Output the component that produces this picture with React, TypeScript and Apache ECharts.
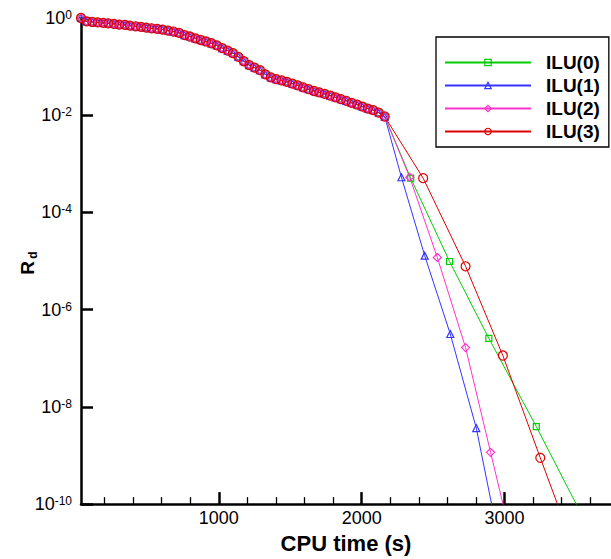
import React, { useEffect, useRef } from "react";
import * as echarts from "echarts";

// Shared convergence history (all four preconditioners overlap here)
const commonTime = [35, 75, 114, 152, 191, 226, 266, 303, 343, 378, 418, 455, 492, 529, 569, 606, 645, 683, 722, 760, 797, 836, 873, 910, 948, 986, 1024, 1062, 1099, 1137, 1175, 1213, 1250, 1288, 1326, 1364, 1401, 1439, 1477, 1515, 1552, 1590, 1628, 1666, 1703, 1741, 1779, 1817, 1855, 1892, 1930, 1969, 2006, 2043, 2081, 2119, 2161];
const commonRd = [1.0, 0.853, 0.829, 0.813, 0.791, 0.776, 0.755, 0.73, 0.72, 0.697, 0.675, 0.656, 0.634, 0.614, 0.597, 0.578, 0.551, 0.526, 0.494, 0.446, 0.416, 0.382, 0.353, 0.329, 0.302, 0.273, 0.24, 0.214, 0.189, 0.159, 0.129, 0.107, 0.0953, 0.0844, 0.0692, 0.0599, 0.0553, 0.0523, 0.0485, 0.0446, 0.041, 0.0373, 0.0343, 0.0315, 0.0295, 0.0274, 0.0254, 0.0232, 0.0214, 0.0198, 0.0179, 0.0165, 0.015, 0.0137, 0.0127, 0.0113, 0.0094];

// Tails after the common part
const ilu0Time = [2343, 2615, 2890, 3222, 3559];
const ilu0Rd = [5.07e-4, 9.8e-6, 2.57e-7, 3.94e-9, 4.7e-11];
const ilu1Time = [2278, 2441, 2620, 2802, 2986];
const ilu1Rd = [5.3e-4, 1.29e-5, 3.16e-7, 3.66e-9, 7.6e-12];
const ilu2Time = [2336, 2529, 2727, 2902, 3077];
const ilu2Rd = [5.3e-4, 1.19e-5, 1.66e-7, 1.16e-9, 8.3e-12];
const ilu3Time = [2430, 2727, 2988, 3250, 3510];
const ilu3Rd = [5.07e-4, 7.8e-6, 1.14e-7, 8.95e-10, 7.9e-12];

const seriesNames = ["ILU(0)", "ILU(1)", "ILU(2)", "ILU(3)"];
const seriesColors = ["#00cc00", "#3535ff", "#ff33cc", "#dd0000"];
const seriesSymbols = ["rect", "triangle", "diamond", "circle"];
const seriesSizes = [6, 7, 8, 9];
const tailTimes = [ilu0Time, ilu1Time, ilu2Time, ilu3Time];
const tailRds = [ilu0Rd, ilu1Rd, ilu2Rd, ilu3Rd];

const majorTicks = [1000, 2000, 3000];
const minorTicks = [200, 400, 600, 800, 1200, 1400, 1600, 1800, 2200, 2400, 2600, 2800, 3200, 3400, 3600];
const yTicks = [1e-10, 1e-8, 1e-6, 1e-4, 1e-2, 1];
const xMin = 35;
const xMax = 3745;

export default function App() {
  const ref = useRef<HTMLDivElement>(null);
  useEffect(() => {
    if (!ref.current) return;
    const chart = echarts.init(ref.current, undefined, { renderer: "svg" });
    const font = "Liberation Sans, Arial, sans-serif";
    const series = seriesNames.map((name, i) => {
      const data: [number, number][] = [];
      commonTime.forEach((t, k) => data.push([t, commonRd[k]]));
      tailTimes[i].forEach((t, k) => data.push([t, tailRds[i][k]]));
      return {
        name,
        type: "line",
        xAxisIndex: 0,
        data,
        symbol: seriesSymbols[i],
        symbolSize: seriesSizes[i],
        showAllSymbol: true,
        clip: true,
        lineStyle: { color: seriesColors[i], width: 1 },
        itemStyle: { color: "transparent", borderColor: seriesColors[i], borderWidth: 1.2 },
        emphasis: { disabled: true },
      };
    });
    chart.setOption({
      animation: false,
      backgroundColor: "#fff",
      grid: { left: 81, right: 0, top: 18, bottom: 50 },
      graphic: [
        {
          type: "group",
          x: 27,
          y: 263,
          rotation: Math.PI / 2,
          children: [
            {
              type: "text",
              x: -5,
              y: 0,
              style: { text: "R", fontFamily: font, fontWeight: "bold", fontSize: 19, fill: "#000", align: "center", verticalAlign: "middle" },
            },
            {
              type: "text",
              x: 8,
              y: 6,
              style: { text: "d", fontFamily: font, fontWeight: "bold", fontSize: 12, fill: "#000", align: "center", verticalAlign: "middle" },
            },
          ],
        },
      ],
      legend: {
        data: seriesNames.map((n, i) => ({
          name: n,
          itemStyle: { color: "transparent", borderColor: seriesColors[i], borderWidth: 1.2 },
        })),
        orient: "vertical",
        left: 436,
        top: 37,
        itemWidth: 86,
        itemHeight: 8,
        itemGap: 0,
        padding: [14, 9, 4, 8],
        borderColor: "#000",
        borderWidth: 1.3,
        backgroundColor: "#fff",
        selectedMode: false,
        textStyle: {
          fontFamily: font,
          fontWeight: "bold",
          fontSize: 19,
          color: "#000",
          lineHeight: 23,
          padding: [0, 0, 0, 10],
        },
      },
      xAxis: [
        {
          type: "value",
          min: xMin,
          max: xMax,
          name: "CPU time (s)",
          nameLocation: "middle",
          nameGap: 24,
          nameTextStyle: { fontFamily: font, fontWeight: "bold", fontSize: 22, color: "#000" },
          axisLine: { show: true, lineStyle: { color: "#000", width: 2.5 } },
          axisTick: { show: true, inside: true, length: 12, lineStyle: { color: "#000", width: 2.5 }, customValues: majorTicks },
          axisLabel: { show: true, margin: 5, fontFamily: font, fontSize: 18, color: "#000", customValues: majorTicks, formatter: (v: number) => String(v) },
          splitLine: { show: false },
        },
        {
          type: "value",
          min: xMin,
          max: xMax,
          position: "bottom",
          axisLine: { show: false },
          axisTick: { show: true, inside: true, length: 7, lineStyle: { color: "#000", width: 1.3 }, customValues: minorTicks },
          axisLabel: { show: false },
          splitLine: { show: false },
        },
      ],
      yAxis: {
        type: "log",
        logBase: 10,
        min: 1e-10,
        max: 1,
        axisLine: { show: true, lineStyle: { color: "#000", width: 2.5 } },
        axisTick: { show: true, inside: true, length: 12, lineStyle: { color: "#000", width: 2.5 }, customValues: yTicks },
        minorTick: { show: false },
        splitLine: { show: false },
        axisLabel: {
          margin: 9,
          customValues: yTicks,
          formatter: (v: number) => {
            const e = Math.round(Math.log10(v));
            return "{b|10}{s|" + e + "}";
          },
          rich: {
            b: { fontFamily: font, fontSize: 18, color: "#000", lineHeight: 18 },
            s: { fontFamily: font, fontSize: 12, color: "#000", lineHeight: 12, verticalAlign: "top", padding: [0, 0, 8, 0] },
          },
        },
      },
      series,
    });
    return () => chart.dispose();
  }, []);
  return <div ref={ref} style={{ width: 611, height: 559, position: "absolute", left: 0, top: 0 }} />;
}
